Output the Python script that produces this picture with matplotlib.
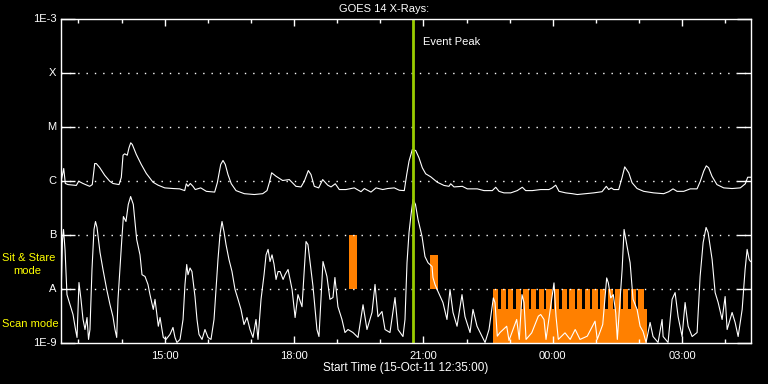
import numpy as np
import pandas as pd
import matplotlib
matplotlib.use('Agg')
import matplotlib.pyplot as plt
import matplotlib.dates as mdates
from matplotlib.ticker import NullLocator

plt.rcParams['font.family'] = ['Liberation Sans', 'DejaVu Sans']

start = pd.Timestamp('2011-10-15 12:35:00')
span_min = 960
peak_min = 490.4

# long channel (1-8 A), minutes after start / flux in 1e-6 W/m^2
long_min = [0, 4.5, 6.7, 10.4, 22.0, 25.3, 31.3, 40.6, 44.2, 47.6,
            49.8, 54.5, 61.5, 68.5, 73.0, 81.4, 84.6, 87.0, 89.3, 92.9,
            95.3, 97.7, 99.9, 105.5, 112.4, 119.4, 128.7, 135.7, 145.0, 156.5,
            165.8, 172.8, 175.0, 177.4, 180.6, 184.3, 187.5, 195.1, 202.9, 214.5,
            218.2, 222.9, 226.1, 229.3, 233.0, 237.6, 244.2, 255.7, 269.6, 281.3,
            287.3, 290.5, 293.8, 299.8, 309.1, 318.3, 327.6, 334.6, 339.2, 344.8,
            348.5, 353.1, 359.2, 364.8, 371.8, 376.4, 382.3, 387.9, 397.2, 408.8,
            418.1, 422.7, 432.0, 439.0, 448.3, 455.2, 464.4, 471.4, 478.3, 481.7,
            484.9, 489.5, 494.2, 498.8, 503.4, 508.1, 515.1, 524.2, 533.6, 540.5,
            542.9, 547.5, 559.0, 566.0, 579.9, 589.2, 600.8, 605.5, 610.1, 617.0,
            626.4, 635.5, 642.5, 647.2, 656.4, 668.1, 679.6, 684.2, 689.0, 693.6,
            702.9, 712.1, 719.0, 730.2, 741.8, 753.4, 759.4, 762.7, 766.3, 769.7,
            776.6, 781.2, 785.0, 790.6, 795.2, 802.2, 811.4, 825.3, 839.2, 846.2,
            852.2, 857.8, 867.1, 876.2, 885.6, 890.2, 894.9, 898.5, 901.8, 906.4,
            913.3, 922.7, 934.3, 945.8, 952.8, 956.1, 960]
long_flux = [0.84, 1.67, 0.88, 0.84, 0.81, 0.97, 0.88, 0.78, 0.84, 2.06,
             2.06, 1.74, 1.25, 0.97, 0.88, 0.84, 1.14, 2.94, 3.12, 2.94,
             4.03, 4.99, 4.64, 3.03, 1.98, 1.35, 0.93, 0.82, 0.73, 0.71,
             0.70, 0.65, 0.87, 0.78, 0.88, 0.78, 0.68, 0.73, 0.63, 0.61,
             0.91, 1.98, 2.35, 1.98, 1.29, 0.87, 0.65, 0.57, 0.55, 0.57,
             0.65, 0.91, 1.39, 1.20, 1.00, 1.04, 0.78, 0.76, 0.97, 1.53,
             1.29, 0.78, 0.73, 1.04, 0.82, 0.76, 0.87, 0.68, 0.68, 0.73,
             0.62, 0.71, 0.61, 0.73, 0.68, 0.71, 0.73, 0.66, 0.65, 1.29,
             2.28, 3.75, 3.59, 2.63, 1.72, 1.33, 1.17, 0.93, 0.81, 0.78,
             0.87, 0.76, 0.78, 0.70, 0.70, 0.65, 0.65, 0.75, 0.63, 0.59,
             0.59, 0.65, 0.75, 0.65, 0.65, 0.68, 0.68, 0.73, 0.82, 0.63,
             0.59, 0.57, 0.55, 0.57, 0.59, 0.62, 0.78, 0.68, 0.73, 0.68,
             0.68, 1.12, 1.79, 1.39, 0.91, 0.71, 0.63, 0.59, 0.57, 0.62,
             0.70, 0.63, 0.63, 0.70, 0.70, 0.97, 1.49, 1.87, 1.72, 1.20,
             0.84, 0.73, 0.71, 0.73, 0.87, 1.15, 1.15]

# short channel (0.5-4 A), minutes after start / flux in 1e-9 W/m^2
short_min = [0.7, 2.8, 4.2, 6.3, 9.0, 13.2, 17.4, 20.9, 23.0, 25.7,
             28.5, 31.3, 34.1, 36.9, 39.0, 41.0, 43.8, 46.6, 48.7, 50.8,
             55.0, 59.1, 64.3, 68.9, 73.0, 75.8, 78.2, 80.0, 85.3, 87.5,
             91.1, 94.3, 97.6, 101.3, 106.0, 110.6, 113.4, 117.6, 121.7, 124.5,
             129.1, 131.5, 136.1, 138.5, 143.0, 146.8, 152.3, 156.5, 159.3, 162.0,
             166.3, 170.5, 173.2, 175.6, 177.4, 180.2, 182.9, 187.1, 189.9, 192.7,
             196.9, 201.0, 205.2, 209.4, 213.6, 216.3, 219.1, 221.9, 224.7, 227.5,
             230.3, 234.4, 238.6, 242.8, 247.0, 251.1, 255.3, 259.5, 263.7, 267.8,
             272.0, 274.8, 279.0, 283.2, 286.0, 288.8, 291.5, 294.3, 297.1, 299.9,
             302.7, 305.5, 309.7, 312.4, 316.6, 322.2, 326.4, 330.4, 336.0, 341.6,
             344.3, 351.3, 356.8, 359.6, 365.2, 370.7, 374.9, 379.1, 381.8, 386.0,
             391.6, 395.8, 400.0, 406.9, 413.9, 420.9, 426.4, 433.4, 437.6, 441.7,
             447.3, 451.5, 458.4, 465.4, 469.6, 476.5, 479.3, 482.1, 484.9, 487.7,
             490.5, 493.9, 497.4, 503.0, 507.1, 511.3, 516.9, 518.2, 521.0, 525.2,
             532.1, 537.7, 541.9, 546.1, 551.7, 558.6, 562.8, 569.8, 573.9, 579.5,
             585.1, 590.7, 596.2, 602.2, 604.5, 607.7, 611.5, 620.8, 624.0, 634.7,
             638.3, 642.1, 644.9, 647.7, 655.6, 664.8, 668.1, 672.7, 675.5, 686.6,
             689.4, 692.6, 701.9, 709.1, 716.1, 722.8, 732.9, 743.7, 746.8, 754.4,
             759.9, 762.2, 765.5, 769.1, 772.5, 774.7, 781.4, 784.1, 788.3, 792.5,
             796.6, 802.2, 806.4, 810.5, 814.7, 820.3, 824.4, 831.4, 837.0, 838.4,
             845.3, 850.9, 855.1, 859.3, 864.8, 869.0, 873.2, 878.8, 885.7, 889.9,
             894.1, 898.2, 901.0, 906.6, 910.8, 915.0, 920.5, 924.7, 927.5, 934.4,
             938.6, 942.8, 948.4, 952.5, 955.3, 958.1, 960.0]
short_flux = [6.3, 81, 124, 53, 7.7, 5.0, 3.3, 1.74, 1.24, 12.9,
              6.3, 2.7, 1.74, 2.9, 1.14, 1.74, 22.5, 124, 174, 135,
              46.4, 22.5, 9.6, 5.0, 3.0, 1.74, 1.24, 6.3, 81, 215,
              174, 360, 505, 360, 81, 42, 18, 16.7, 11.9, 7.7,
              4.1, 6.3, 2.0, 2.9, 1.24, 1.14, 1.41, 1.9, 1.24, 1.0,
              1.14, 2.67, 11.9, 27.8, 18, 24, 20.6, 7.1, 2.67, 1.41,
              1.14, 1.74, 1.24, 1.14, 2.67, 9.6, 34.4, 100, 174, 112,
              65, 34.4, 20.6, 9.6, 6.3, 4.1, 2.15, 2.9, 1.74, 1.24,
              2.67, 1.14, 6.3, 18, 42, 53, 31.6, 42, 28, 14.7,
              20.6, 20.6, 14.7, 18, 22.5, 9.6, 2.9, 7.7, 4.6, 74,
              65, 10.9, 1.74, 1.29, 31.6, 16.7, 6.3, 6.8, 16, 4.6,
              2.67, 1.53, 1.74, 1.53, 1.24, 5.0, 1.74, 3.6, 11.9, 3.0,
              3.75, 1.74, 1.53, 6.8, 1.74, 1.29, 2.67, 30, 109, 235,
              445, 360, 190, 92, 39, 30, 25.5, 16, 11.9, 8.8,
              5.5, 2.67, 9.6, 3.6, 2.0, 7.7, 3.0, 1.53, 4.1, 2.0,
              1.41, 1.0, 1.74, 6.7, 5.5, 1.31, 1.53, 2.0, 1.09, 2.67,
              1.14, 7.7, 5.5, 1.14, 1.51, 3.07, 3.3, 2.67, 1.14, 12.7,
              3.07, 1.14, 1.51, 1.14, 1.74, 1.14, 1.31, 2.48, 1.14, 2.15,
              15.7, 12.7, 6.7, 7.7, 3.55, 1.14, 22.5, 124, 60, 30,
              6.3, 4.1, 2.0, 1.6, 1.0, 2.35, 1.29, 1.0, 2.67, 1.29,
              1.0, 6.3, 8.4, 3.0, 1.29, 5.5, 2.0, 1.29, 1.53, 16.7,
              71, 135, 109, 34.4, 8.4, 5.5, 2.67, 7.1, 1.74, 3.6,
              2.35, 1.29, 4.1, 22.5, 53, 34.4, 31.6]

# instrument mode bars (minutes after start)
sit_start = [401.7, 514.1]
sit_end = [412.8, 525.2]
sit_top = [1e-7, 4.1e-8]
scan_start = 601.7
scan_end = 815.4
scan_top = 4.1e-9
stripe_start = [601.3, 612.4, 622.6, 633.3, 643.9, 654.6, 665.3, 675.9, 686.6, 697.3,
                707.9, 718.6, 729.3, 739.9, 750.6, 761.3, 771.9, 782.6, 793.3, 803.9]
stripe_len = 7.4

levels = [1e-9, 1e-8, 1e-7, 1e-6, 1e-5, 1e-4, 1e-3]
level_names = ['1E-9', 'A', 'B', 'C', 'M', 'X', '1E-3']

orange = '#ff8000'
yellow = '#ffff00'
green = '#99cc00'


def tnum(mins):
    mins = np.atleast_1d(np.asarray(mins, dtype=float))
    return mdates.date2num((start + pd.to_timedelta(mins, unit='m')).to_numpy())


fig = plt.figure(figsize=(7.68, 3.84), dpi=100, facecolor='black')
ax = fig.add_axes([60.5 / 768, 1 - 342.5 / 384, 690 / 768, 324 / 384], facecolor='black')
ax.set_yscale('log')

# mode bars
day = 1440.0
ax.bar(tnum(sit_start), np.array(sit_top) - 1e-8, bottom=1e-8,
       width=(np.array(sit_end) - np.array(sit_start)) / day, align='edge', color=orange, lw=0)
ax.bar(tnum(scan_start), scan_top - 1e-9, bottom=1e-9,
       width=(scan_end - scan_start) / day, align='edge', color=orange, lw=0)
ax.bar(tnum(stripe_start), 1e-8 - 1e-9, bottom=1e-9,
       width=stripe_len / day, align='edge', color=orange, lw=0)

for lv in levels[1:-1]:
    ax.axhline(lv, color='white', lw=1, ls=(0, (1, 5)))

ax.plot(tnum(long_min), np.array(long_flux) * 1e-6, color='white', lw=0.8)
ax.plot(tnum(short_min), np.array(short_flux) * 1e-9, color='white', lw=0.8)

ax.axvline(tnum(peak_min)[0], color=green, lw=2)
ax.annotate('Event Peak', xy=(tnum(peak_min)[0], 1), xycoords=('data', 'axes fraction'),
            xytext=(7, -17), textcoords='offset points', color='white', fontsize=8,
            ha='left', va='center')

ax.set_xlim(tnum(0)[0], tnum(span_min)[0])
ax.set_ylim(1e-9, 1e-3)

ax.set_yticks(levels)
ax.set_yticklabels(level_names)
ax.yaxis.set_minor_locator(NullLocator())
ax.tick_params(axis='y', which='major', direction='in', length=10, width=1,
               colors='white', right=True, labelsize=8, pad=3)

ax.xaxis.set_major_locator(mdates.HourLocator(byhour=range(0, 24, 3)))
ax.xaxis.set_minor_locator(mdates.HourLocator())
ax.xaxis.set_major_formatter(mdates.DateFormatter('%H:%M'))
ax.tick_params(axis='x', which='major', direction='in', length=5, width=1,
               colors='white', top=True, labelsize=8, pad=6)
ax.tick_params(axis='x', which='minor', direction='in', length=2.7, width=1,
               colors='white', top=True)

for sp in ax.spines.values():
    sp.set_color('white')
    sp.set_linewidth(1)

fig.text(384 / 768, 1 - 9 / 384, 'GOES 14 X-Rays:', color='white', fontsize=8,
         ha='center', va='center')
fig.text(405.5 / 768, 1 - 368 / 384, 'Start Time (15-Oct-11 12:35:00)', color='white',
         fontsize=8.5, ha='center', va='center')
fig.text(2 / 768, 1 - 258 / 384, 'Sit & Stare', color=yellow, fontsize=8, ha='left', va='center')
fig.text(13 / 768, 1 - 271 / 384, 'mode', color=yellow, fontsize=8, ha='left', va='center')
fig.text(2 / 768, 1 - 324 / 384, 'Scan mode', color=yellow, fontsize=8, ha='left', va='center')

fig.savefig('out.png', dpi=100, facecolor='black')
